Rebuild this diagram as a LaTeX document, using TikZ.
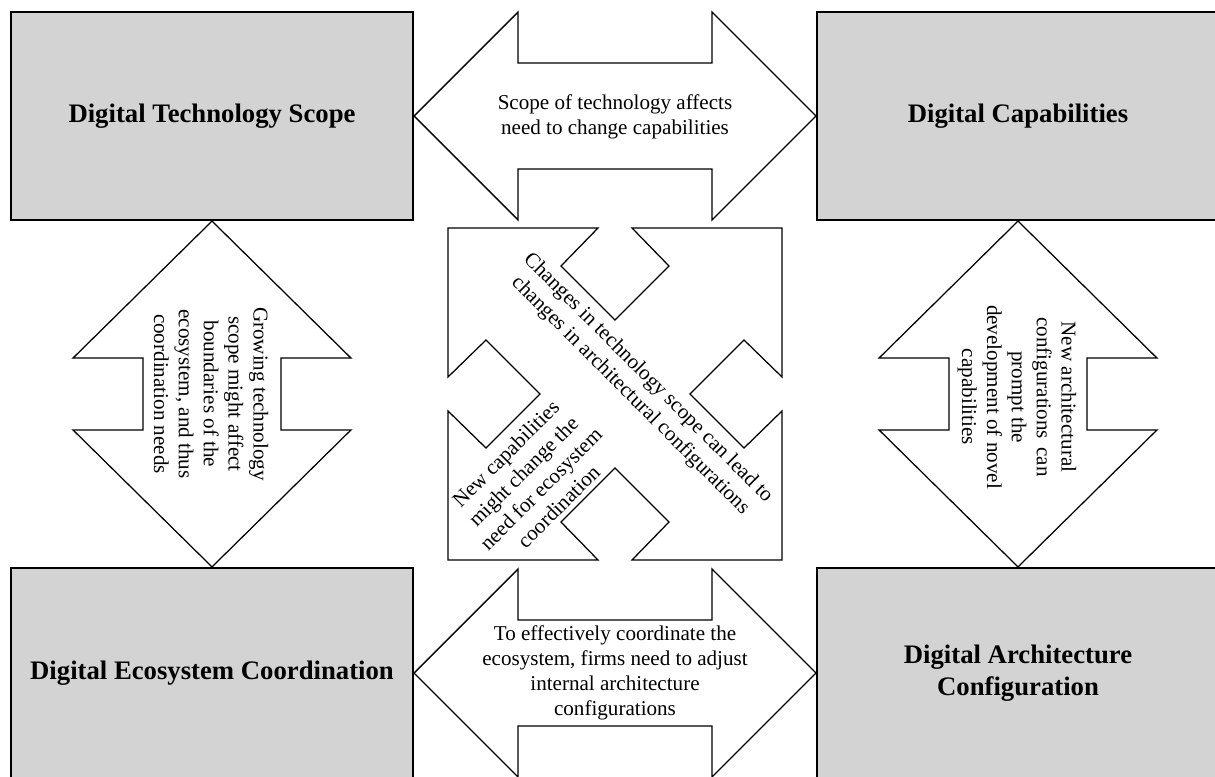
\documentclass[tikz,border=0pt]{standalone}
\usepackage{fontspec}
\setmainfont{Liberation Serif}
\usetikzlibrary{calc}
\definecolor{boxgray}{RGB}{211,211,211}
\tikzset{
  block/.style={draw=black, line width=1.5pt, fill=boxgray, inner sep=0pt,
    minimum width=10.05cm, align=center,
    font=\fontsize{19}{23}\selectfont\bfseries},
  bigarrow/.style={draw=black, line width=0.9pt, fill=white, line join=miter},
  note/.style={align=center, inner sep=0pt, font=\fontsize{15}{17.7}\selectfont}
}
\begin{document}
\begin{tikzpicture}[x=0.025cm, y=-0.025cm]
  \useasboundingbox (0,0) rectangle (1215,776);
  \clip (0,0) rectangle (1215,776);

  % the four construct boxes
  \node[block, minimum height=5.2cm]  (tl) at (212,116) {Digital Technology Scope};
  \node[block, minimum height=5.2cm]  (tr) at (1018,116) {Digital Capabilities};
  \node[block, minimum height=5.25cm] (bl) at (212,673) {Digital Ecosystem Coordination};
  \node[block, minimum height=5.25cm] (br) at (1018,673) {Digital Architecture\\Configuration};

  % horizontal double arrows
  \foreach \a/\b in {tl/tr, bl/br}{
    \draw[bigarrow] (\a.east) -- ($(\a.east)+(104,-104)$) -- ($(\a.east)+(104,-53)$)
      -- ($(\b.west)+(-104,-53)$) -- ($(\b.west)+(-104,-104)$) -- (\b.west)
      -- ($(\b.west)+(-104,104)$) -- ($(\b.west)+(-104,53)$)
      -- ($(\a.east)+(104,53)$) -- ($(\a.east)+(104,104)$) -- cycle;
  }

  % vertical double arrows
  \foreach \a/\b in {tl/bl, tr/br}{
    \draw[bigarrow] (\a.south) -- ($(\a.south)+(139,137)$) -- ($(\a.south)+(69,137)$)
      -- ($(\b.north)+(69,-137)$) -- ($(\b.north)+(139,-137)$) -- (\b.north)
      -- ($(\b.north)+(-139,-137)$) -- ($(\b.north)+(-69,-137)$)
      -- ($(\a.south)+(-69,137)$) -- ($(\a.south)+(-139,137)$) -- cycle;
  }

  % crossing diagonal double arrows in the middle
  \coordinate (c) at ($(tl.south east)!0.5!(br.north west)$);
  \draw[bigarrow] ($(c)+(-167,-166)$) -- ($(c)+(-17,-166)$) -- ($(c)+(-54,-128)$)
    -- ($(c)+(0,-74)$) -- ($(c)+(54,-128)$) -- ($(c)+(17,-166)$)
    -- ($(c)+(167,-166)$) -- ($(c)+(167,-17)$) -- ($(c)+(129,-54)$)
    -- ($(c)+(75,0)$) -- ($(c)+(129,54)$) -- ($(c)+(167,17)$)
    -- ($(c)+(167,166)$) -- ($(c)+(17,166)$) -- ($(c)+(54,128)$)
    -- ($(c)+(0,74)$) -- ($(c)+(-54,128)$) -- ($(c)+(-17,166)$)
    -- ($(c)+(-167,166)$) -- ($(c)+(-167,17)$) -- ($(c)+(-129,54)$)
    -- ($(c)+(-75,0)$) -- ($(c)+(-129,-54)$) -- ($(c)+(-167,-17)$) -- cycle;

  % arrow labels
  \node[note] (ttop) at (615,117) {Scope of technology affects\\need to change capabilities};
  \node[note] (tbot) at (615,673) {To effectively coordinate the\\ecosystem, firms need to adjust\\internal architecture\\configurations};
  \node[note, rotate=-90] (tleft) at (211,394) {Growing technology\\scope might affect\\boundaries of the\\ecosystem, and thus\\coordination needs};
  \node[note, rotate=-90] (tright) at (1017,397) {New architectural\\configurations\hspace{0.4em}can\\prompt the\\development of novel\\capabilities};
  \node[note, rotate=-45] (tdiag1) at (639,387) {Changes in technology scope can lead to\\changes in architectural configurations};
  \node[note, rotate=45] (tdiag2) at (532,480) {New capabilities\\might change the\\need for ecosystem\\coordination};
\end{tikzpicture}
\end{document}
